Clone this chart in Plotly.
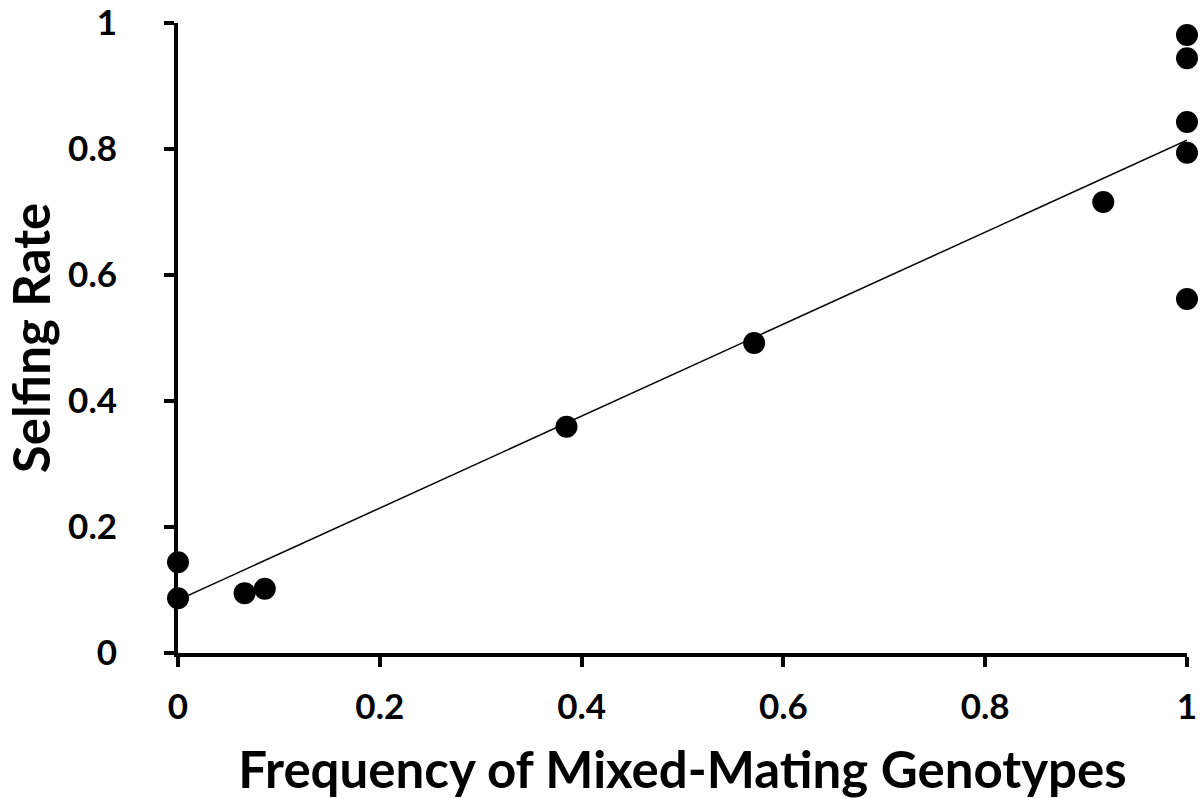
import plotly.graph_objects as go

# Data
mixed_freq = [0.0, 0.0, 0.066, 0.086, 0.385, 0.571, 0.917, 1.0, 1.0, 1.0, 1.0, 1.0]
selfing_rate = [0.144, 0.087, 0.095, 0.102, 0.359, 0.492, 0.716, 0.981, 0.944, 0.843, 0.794, 0.562]

# Linear trendline endpoints (as drawn in the reference)
trend_x = [0.0, 1.0]
trend_y = [0.084, 0.814]

tick_vals = [0, 0.2, 0.4, 0.6, 0.8, 1]
tick_text = ["0", "0.2", "0.4", "0.6", "0.8", "1"]

FONT = "Lato"

fig = go.Figure()
fig.add_trace(go.Scatter(
    x=trend_x, y=trend_y, mode="lines",
    line=dict(color="black", width=1.5),
    hoverinfo="skip", showlegend=False, cliponaxis=False,
))
fig.add_trace(go.Scatter(
    x=mixed_freq, y=selfing_rate, mode="markers",
    marker=dict(color="black", size=22, line=dict(width=0)),
    showlegend=False, cliponaxis=False,
))

axis_common = dict(
    range=[0, 1],
    tickvals=tick_vals, ticktext=tick_text,
    showgrid=False, zeroline=False,
    showline=True, linecolor="black", linewidth=4,
    ticks="outside", ticklen=10, tickwidth=4, tickcolor="black",
    tickfont=dict(family=FONT, size=35, color="black", weight="bold"),
    automargin=False,
)

fig.update_layout(
    width=1203, height=799,
    margin=dict(l=178, r=16, t=23, b=146),
    plot_bgcolor="white", paper_bgcolor="white",
    xaxis=dict(**axis_common,
               title=dict(text="Frequency of Mixed-Mating Genotypes",
                          font=dict(family=FONT, size=51, color="black", weight="bold"),
                          standoff=31)),
    yaxis=dict(**axis_common,
               title=dict(text="Selfing Rate",
                          font=dict(family=FONT, size=51, color="black", weight="bold"),
                          standoff=10)),
)
fig.update_xaxes(ticklabelstandoff=10)
fig.update_yaxes(ticklabelstandoff=40)

fig.write_html("out.html")
